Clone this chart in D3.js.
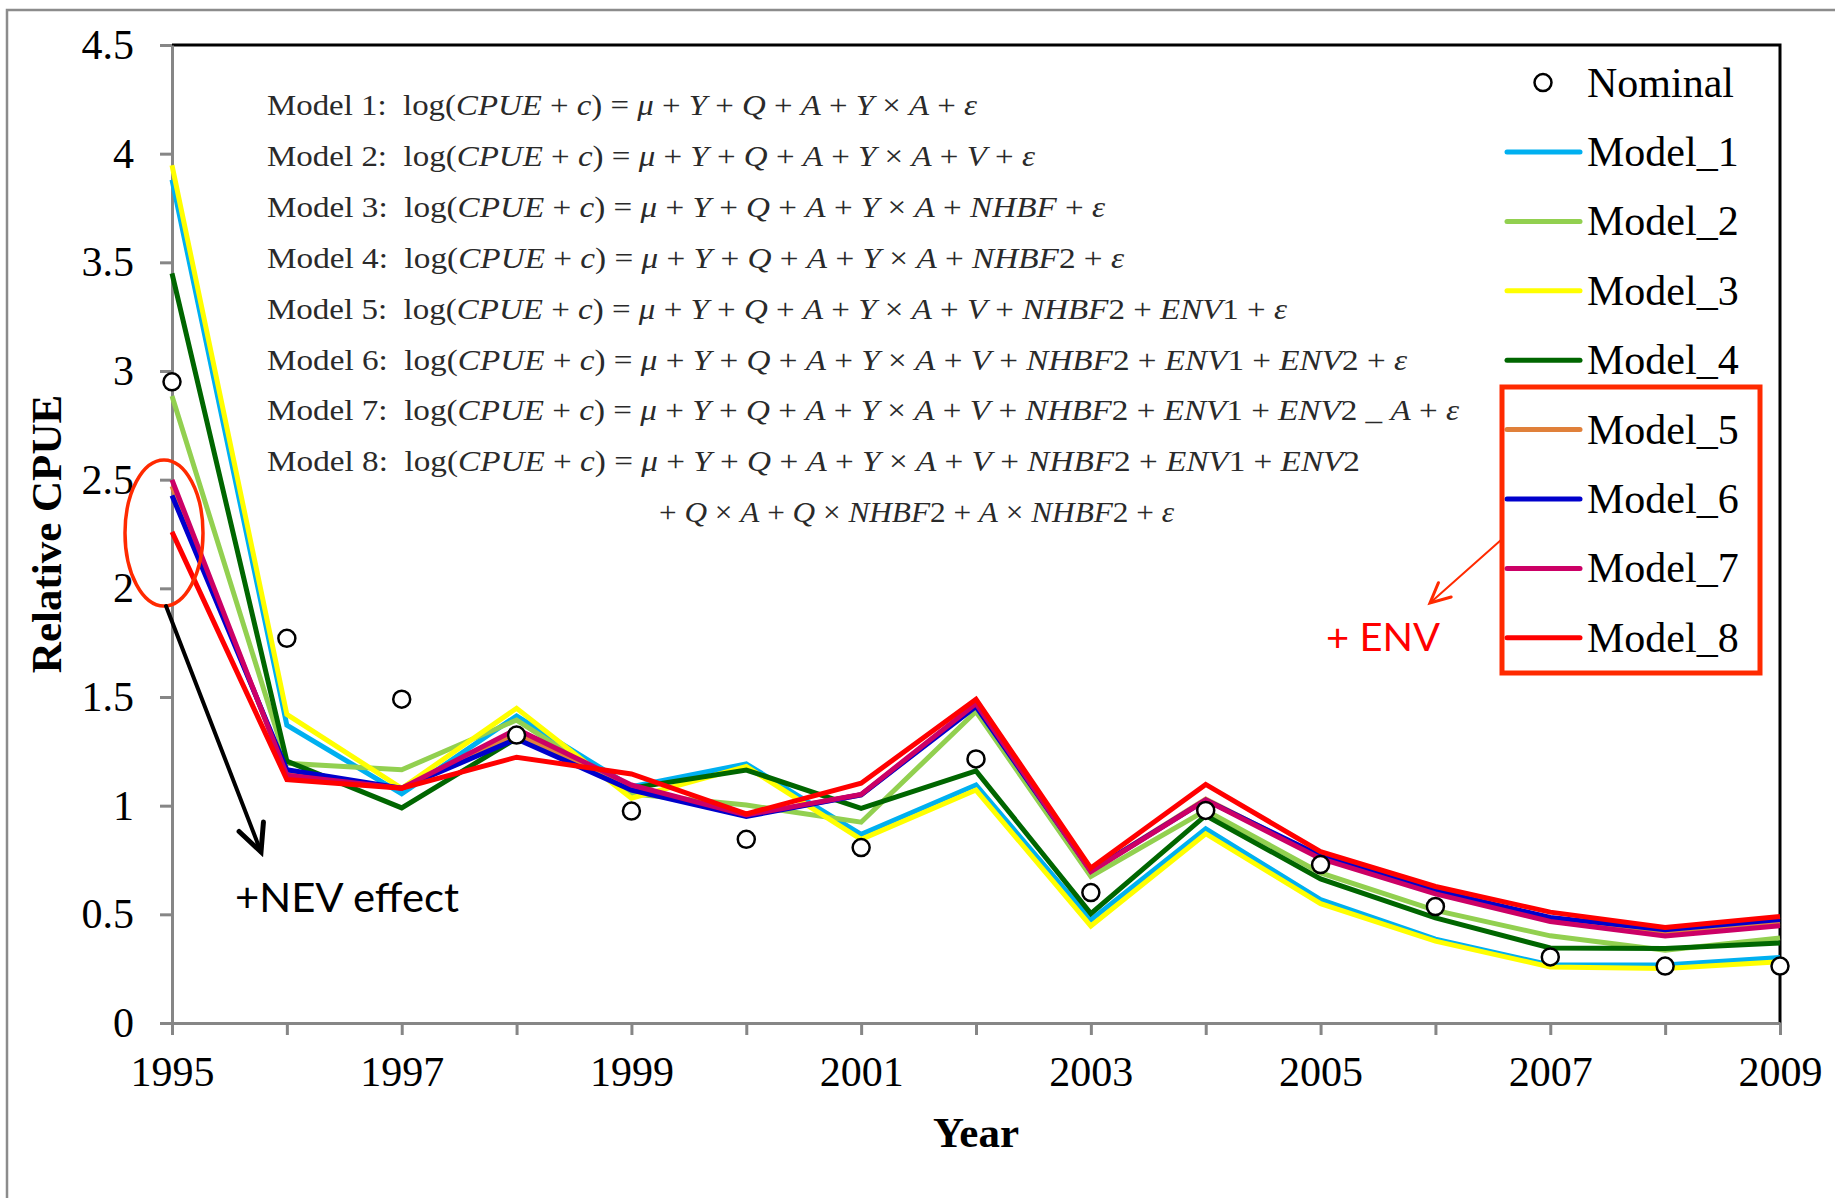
<!DOCTYPE html>
<html>
<head>
<meta charset="utf-8">
<script src="https://cdn.jsdelivr.net/npm/d3@7"></script>
<style>
  body { margin: 0; background: #fff; }
  svg { display: block; }
  .axis path, .axis line { stroke: #868686; stroke-width: 3; }
  .axis text { font-family: "Liberation Serif", "Times New Roman", serif; font-size: 42px; fill: #000; }
  .title { font-family: "Liberation Serif", "Times New Roman", serif; font-weight: bold; font-size: 43px; }
  .legend text { font-family: "Liberation Serif", "Times New Roman", serif; font-size: 42px; }
  .formula { font-family: "Liberation Serif", "Times New Roman", serif; font-size: 30px; fill: #2a2a2a; }
</style>
</head>
<body>
<svg class="chart"></svg>
<script>
const years = d3.range(1995, 2010);
const yTicks = [0, 0.5, 1, 1.5, 2, 2.5, 3, 3.5, 4, 4.5];
const xLabels = ["1995", "1997", "1999", "2001", "2003", "2005", "2007", "2009"];

const nominal = [2.95, 1.77, 1.49, 1.325, 0.975, 0.845, 0.807, 1.215, 0.60, 0.978, 0.729, 0.536, 0.304, 0.262, 0.262];
const model1 = [3.88, 1.37, 1.055, 1.413, 1.087, 1.192, 0.868, 1.095, 0.474, 0.893, 0.568, 0.386, 0.267, 0.267, 0.301];
const model2 = [2.885, 1.195, 1.165, 1.394, 1.054, 1.003, 0.924, 1.433, 0.674, 0.978, 0.691, 0.518, 0.401, 0.335, 0.391];
const model3 = [3.947, 1.42, 1.08, 1.448, 1.034, 1.18, 0.845, 1.072, 0.446, 0.871, 0.549, 0.377, 0.258, 0.251, 0.282];
const model4 = [3.449, 1.205, 0.99, 1.31, 1.08, 1.164, 0.988, 1.16, 0.503, 0.955, 0.663, 0.484, 0.345, 0.343, 0.368];
const model5 = [2.47, 1.15, 1.08, 1.33, 1.085, 0.955, 1.05, 1.465, 0.70, 1.03, 0.762, 0.60, 0.475, 0.415, 0.46];
const model6 = [2.427, 1.165, 1.08, 1.307, 1.072, 0.95, 1.05, 1.456, 0.70, 1.026, 0.769, 0.609, 0.486, 0.429, 0.476];
const model7 = [2.499, 1.14, 1.08, 1.352, 1.095, 0.957, 1.052, 1.47, 0.697, 1.026, 0.756, 0.594, 0.467, 0.40, 0.448];
const model8 = [2.26, 1.12, 1.08, 1.223, 1.146, 0.962, 1.103, 1.49, 0.713, 1.098, 0.788, 0.628, 0.51, 0.439, 0.49];

const seriesNames = ["Model_1", "Model_2", "Model_3", "Model_4", "Model_5", "Model_6", "Model_7", "Model_8"];
const seriesValues = [model1, model2, model3, model4, model5, model6, model7, model8];
const colors = ["#00b0f0", "#92d050", "#ffff00", "#006600", "#e0803a", "#0000cc", "#cc0066", "#ff0000"];

const formulas = [
  "log(CPUE + c) = μ + Y + Q + A + Y × A + ε",
  "log(CPUE + c) = μ + Y + Q + A + Y × A + V + ε",
  "log(CPUE + c) = μ + Y + Q + A + Y × A + NHBF + ε",
  "log(CPUE + c) = μ + Y + Q + A + Y × A + NHBF2 + ε",
  "log(CPUE + c) = μ + Y + Q + A + Y × A + V + NHBF2 + ENV1 + ε",
  "log(CPUE + c) = μ + Y + Q + A + Y × A + V + NHBF2 + ENV1 + ENV2 + ε",
  "log(CPUE + c) = μ + Y + Q + A + Y × A + V + NHBF2 + ENV1 + ENV2 _ A + ε",
  "log(CPUE + c) = μ + Y + Q + A + Y × A + V + NHBF2 + ENV1 + ENV2",
  "+ Q × A + Q × NHBF2 + A × NHBF2 + ε"
];
const formulaEnds = [977, 1035, 1105, 1124, 1287, 1407, 1459, 1360, 1174];

const width = 1835;
const height = 1198;
const margin = {top: 45, right: 55, bottom: 175, left: 172};

const x = d3.scaleLinear()
  .domain([1995, 2009])
  .range([margin.left, width - margin.right]);

const y = d3.scaleLinear()
  .domain([0, 4.5])
  .range([height - margin.bottom, margin.top]);

const svg = d3.select('.chart')
  .attr('width', width)
  .attr('height', height);

// outer frame (only top/left visible)
svg.append('rect')
  .attr('x', 7).attr('y', 10)
  .attr('width', width + 20).attr('height', height + 20)
  .attr('fill', 'none')
  .attr('stroke', '#8c8c8c')
  .attr('stroke-width', 2.5);

// plot frame top and right
svg.append('path')
  .attr('d', `M${x(1995)},${y(4.5)}H${x(2009)}V${y(0)}`)
  .attr('fill', 'none')
  .attr('stroke', '#000')
  .attr('stroke-width', 3);

const yAxis = d3.axisLeft(y)
  .tickValues(yTicks)
  .tickFormat(d => String(d))
  .tickSize(12)
  .tickSizeOuter(0)
  .tickPadding(26);

const xAxis = d3.axisBottom(x)
  .tickValues(years)
  .tickFormat(d => xLabels.includes(String(d)) ? String(d) : "")
  .tickSize(12)
  .tickSizeOuter(0)
  .tickPadding(21);

svg.append('g')
  .attr('class', 'axis')
  .attr('transform', `translate(${margin.left},0)`)
  .call(yAxis);

svg.append('g')
  .attr('class', 'axis')
  .attr('transform', `translate(0,${y(0)})`)
  .call(xAxis);

svg.append('text')
  .attr('class', 'title')
  .attr('transform', `translate(61,${(y(0) + y(4.5)) / 2}) rotate(-90)`)
  .attr('text-anchor', 'middle')
  .text('Relative CPUE');

svg.append('text')
  .attr('class', 'title')
  .attr('x', (x(1995) + x(2009)) / 2)
  .attr('y', 1147)
  .attr('text-anchor', 'middle')
  .text('Year');

// model formulas
const fg = svg.append('g').attr('class', 'formula');
formulas.forEach(function(f, i) {
  const last = i === formulas.length - 1;
  const x0 = last ? 659 : 267;
  const t = fg.append('text')
    .attr('x', x0)
    .attr('y', 115 + i * 50.9)
    .attr('textLength', formulaEnds[i] - x0)
    .attr('lengthAdjust', 'spacingAndGlyphs');
  if (!last) {
    t.append('tspan').text(`Model ${i + 1}:\u00a0\u00a0`);
  }
  f.split(/([A-Za-zμε]+)/).forEach(function(part) {
    if (!part) return;
    const ital = /^[A-Za-zμε]+$/.test(part) && part !== 'log';
    t.append('tspan').attr('font-style', ital ? 'italic' : null).text(part);
  });
});

const line = d3.line()
  .x((d, i) => x(years[i]))
  .y(d => y(d));

svg.append('g')
  .selectAll('path')
  .data(seriesValues)
  .enter()
.append('path')
  .attr('d', d => line(d))
  .attr('fill', 'none')
  .attr('stroke', (d, i) => colors[i])
  .attr('stroke-width', 5)
  .attr('stroke-linejoin', 'miter');

svg.append('g')
  .selectAll('circle')
  .data(nominal)
  .enter()
.append('circle')
  .attr('cx', (d, i) => x(years[i]))
  .attr('cy', d => y(d))
  .attr('r', 8.5)
  .attr('fill', '#fff')
  .attr('stroke', '#000')
  .attr('stroke-width', 2.5);

// legend
const legend = svg.append('g').attr('class', 'legend');
const legendY = i => 82.6 + i * 69.4;
legend.append('circle')
  .attr('cx', 1543).attr('cy', legendY(0))
  .attr('r', 8.5)
  .attr('fill', '#fff').attr('stroke', '#000').attr('stroke-width', 2.5);
legend.append('text')
  .attr('x', 1587).attr('y', legendY(0) + 14)
  .text('Nominal');
seriesNames.forEach(function(name, i) {
  legend.append('line')
    .attr('x1', 1507).attr('x2', 1580)
    .attr('y1', legendY(i + 1)).attr('y2', legendY(i + 1))
    .attr('stroke', colors[i])
    .attr('stroke-width', 5)
    .attr('stroke-linecap', 'round');
  legend.append('text')
    .attr('x', 1587).attr('y', legendY(i + 1) + 14)
    .text(name);
});

// annotations
const red = '#ff2a00';
svg.append('rect')
  .attr('x', 1502).attr('y', 387)
  .attr('width', 258).attr('height', 286)
  .attr('fill', 'none')
  .attr('stroke', red)
  .attr('stroke-width', 5);

svg.append('ellipse')
  .attr('cx', 164).attr('cy', 533)
  .attr('rx', 39).attr('ry', 73)
  .attr('fill', 'none')
  .attr('stroke', red)
  .attr('stroke-width', 3.5);

function arrow(x1, y1, x2, y2, color, w, head) {
  const a = Math.atan2(y2 - y1, x2 - x1);
  const g = svg.append('g')
    .attr('fill', 'none')
    .attr('stroke', color)
    .attr('stroke-linecap', 'round');
  g.append('line')
    .attr('x1', x1).attr('y1', y1).attr('x2', x2).attr('y2', y2)
    .attr('stroke-width', w);
  const p1 = [x2 - head * Math.cos(a - 0.45), y2 - head * Math.sin(a - 0.45)];
  const p2 = [x2 - head * Math.cos(a + 0.45), y2 - head * Math.sin(a + 0.45)];
  g.append('path')
    .attr('d', `M${p1}L${x2},${y2}L${p2}`)
    .attr('stroke-width', w + 1)
    .attr('stroke-linejoin', 'miter');
}
arrow(166, 606, 261, 852, '#000', 4, 30);
arrow(1501, 540, 1430, 603, red, 2, 22);

svg.append('text')
  .attr('x', 235).attr('y', 912)
  .attr('font-family', 'Lato, sans-serif')
  .attr('font-size', 41)
  .attr('textLength', 224)
  .attr('lengthAdjust', 'spacingAndGlyphs')
  .text('+NEV effect');

svg.append('text')
  .attr('x', 1326).attr('y', 651)
  .attr('font-family', 'Lato, sans-serif')
  .attr('font-size', 39)
  .attr('fill', '#ff0000')
  .attr('textLength', 114)
  .attr('lengthAdjust', 'spacingAndGlyphs')
  .text('+ ENV');
</script>
</body>
</html>
